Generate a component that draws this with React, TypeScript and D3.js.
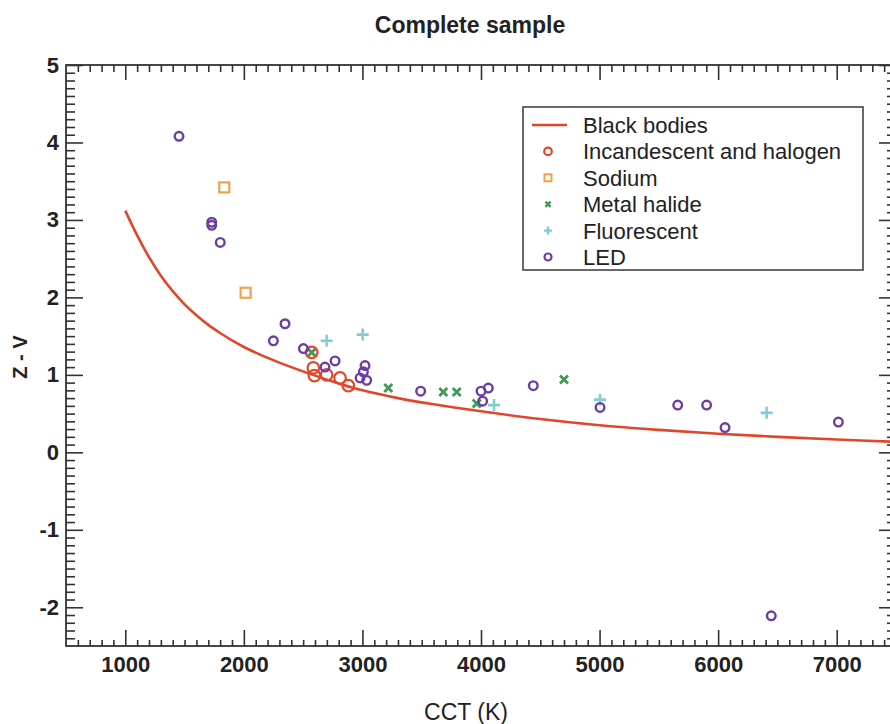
import React, { useEffect, useRef } from 'react';
import * as d3 from 'd3';

// Black body locus (CCT in K, Z - V)
const bbCCT = [1000, 1100, 1200, 1300, 1400, 1500, 1600, 1700, 1800, 1900, 2000, 2200, 2400, 2600, 2800, 3000, 3300, 3600, 4000, 4500, 5000, 5500, 6000, 6500, 7000, 7500];
const bbZV = [3.12, 2.8, 2.52, 2.28, 2.08, 1.91, 1.77, 1.645, 1.54, 1.445, 1.36, 1.22, 1.1, 0.99, 0.89, 0.8, 0.7, 0.62, 0.53, 0.43, 0.35, 0.29, 0.24, 0.2, 0.165, 0.135];

// Incandescent and halogen
const incCCT = [2572, 2586, 2595, 2698, 2811, 2881];
const incZV = [1.29, 1.09, 0.99, 1.0, 0.96, 0.86];

// Sodium
const sodCCT = [1835, 2015];
const sodZV = [3.42, 2.06];

// Metal halide
const mhCCT = [2572, 3218, 3682, 3795, 3964, 4700];
const mhZV = [1.29, 0.83, 0.78, 0.78, 0.63, 0.94];

// Fluorescent
const flCCT = [2698, 3002, 4110, 5004, 6409];
const flZV = [1.44, 1.52, 0.61, 0.68, 0.51];

// LED
const ledCCT = [1453, 1729, 1729, 1801, 2249, 2347, 2502, 2684, 2769, 3022, 3008, 2980, 3036, 3491, 4000, 4062, 4014, 4441, 5004, 5659, 5903, 6058, 6448, 7014];
const ledZV = [4.08, 2.97, 2.93, 2.71, 1.44, 1.66, 1.34, 1.1, 1.18, 1.12, 1.04, 0.96, 0.93, 0.79, 0.79, 0.83, 0.66, 0.86, 0.58, 0.61, 0.61, 0.32, -2.11, 0.39];

const xMajorTicks = [1000, 2000, 3000, 4000, 5000, 6000, 7000];
const yMajorTicks = [-2, -1, 0, 1, 2, 3, 4, 5];
const legendLabels = ['Black bodies', 'Incandescent and halogen', 'Sodium', 'Metal halide', 'Fluorescent', 'LED'];

const FONT = "'Liberation Sans', Arial, Helvetica, sans-serif";
const C_BB = '#e2462a';
const C_INC = '#e0482c';
const C_SOD = '#f0a24c';
const C_MH = '#3f9a55';
const C_FL = '#7fcfd2';
const C_LED = '#6a3ea2';

export default function App() {
  const ref = useRef<SVGSVGElement>(null);

  useEffect(() => {
    const svg = d3.select(ref.current);
    svg.selectAll('*').remove();

    const L = 66, R = 896, T = 65, B = 646;
    const x = d3.scaleLinear().domain([500, 7500]).range([L, R]);
    const y = d3.scaleLinear().domain([-2.5, 5]).range([B, T]);

    // title
    svg.append('text').attr('x', 470).attr('y', 33).attr('text-anchor', 'middle')
      .attr('font-family', FONT).attr('font-weight', 'bold').attr('font-size', 23)
      .attr('fill', '#222').text('Complete sample');

    // axis labels
    svg.append('text').attr('x', 466).attr('y', 720).attr('text-anchor', 'middle')
      .attr('font-family', FONT).attr('font-size', 23).attr('fill', '#222').text('CCT (K)');
    svg.append('text').attr('transform', 'translate(27,357) rotate(-90)').attr('text-anchor', 'middle')
      .attr('font-family', FONT).attr('font-weight', 'bold').attr('font-size', 20).attr('fill', '#222')
      .attr('xml:space', 'preserve').text('Z - V');

    const xMinor = d3.range(600, 7500, 100).filter(v => v % 1000 !== 0);
    const yMinor = d3.range(-24, 50, 1).map(v => v / 10).filter(v => Math.abs(v - Math.round(v)) > 1e-6);

    const styleAxis = (g: any) => {
      g.select('.domain').remove();
      g.selectAll('line').attr('stroke', '#333').attr('stroke-width', 1.6);
      g.selectAll('text').attr('font-family', FONT).attr('font-weight', 'bold').attr('font-size', 22).attr('fill', '#222');
    };
    const fmt = (d: any) => String(d);

    // bottom
    svg.append('g').attr('transform', `translate(0,${B})`)
      .call(d3.axisBottom(x).tickValues(xMinor).tickSize(-6).tickFormat(() => '')).call(styleAxis);
    svg.append('g').attr('transform', `translate(0,${B})`)
      .call(d3.axisBottom(x).tickValues(xMajorTicks).tickSize(-16).tickPadding(10).tickFormat(fmt)).call(styleAxis);
    // top
    svg.append('g').attr('transform', `translate(0,${T})`)
      .call(d3.axisTop(x).tickValues(xMinor).tickSize(-7).tickFormat(() => '')).call(styleAxis);
    svg.append('g').attr('transform', `translate(0,${T})`)
      .call(d3.axisTop(x).tickValues(xMajorTicks).tickSize(-15).tickFormat(() => '')).call(styleAxis);
    // left
    svg.append('g').attr('transform', `translate(${L},0)`)
      .call(d3.axisLeft(y).tickValues(yMinor).tickSize(-9).tickFormat(() => '')).call(styleAxis);
    svg.append('g').attr('transform', `translate(${L},0)`)
      .call(d3.axisLeft(y).tickValues(yMajorTicks).tickSize(-17).tickPadding(7).tickFormat(fmt)).call(styleAxis);
    // right
    svg.append('g').attr('transform', `translate(${R},0)`)
      .call(d3.axisRight(y).tickValues(yMinor).tickSize(-9).tickFormat(() => '')).call(styleAxis);
    svg.append('g').attr('transform', `translate(${R},0)`)
      .call(d3.axisRight(y).tickValues(yMajorTicks).tickSize(-17).tickFormat(() => '')).call(styleAxis);

    // frame
    svg.append('rect').attr('x', L).attr('y', T).attr('width', R - L).attr('height', B - T)
      .attr('fill', 'none').attr('stroke', '#333').attr('stroke-width', 1.8);

    // clip
    svg.append('clipPath').attr('id', 'plotclip').append('rect')
      .attr('x', L).attr('y', T).attr('width', R - L).attr('height', B - T);
    const plot = svg.append('g').attr('clip-path', 'url(#plotclip)');

    // black body curve
    const line = d3.line<number>().x((_, i) => x(bbCCT[i])).y(d => y(d)).curve(d3.curveCatmullRom.alpha(0.5));
    plot.append('path').attr('d', line(bbZV) as string).attr('fill', 'none')
      .attr('stroke', C_BB).attr('stroke-width', 2.6);

    const drawCircle = (g: any, cx: number, cy: number, r: number, color: string, sw: number) =>
      g.append('circle').attr('cx', cx).attr('cy', cy).attr('r', r).attr('fill', 'none').attr('stroke', color).attr('stroke-width', sw);
    const drawSquare = (g: any, cx: number, cy: number, h: number, color: string, sw: number) =>
      g.append('rect').attr('x', cx - h).attr('y', cy - h).attr('width', 2 * h).attr('height', 2 * h)
        .attr('fill', 'none').attr('stroke', color).attr('stroke-width', sw);
    const drawX = (g: any, cx: number, cy: number, h: number, color: string, sw: number) =>
      g.append('path').attr('d', `M${cx - h},${cy - h}L${cx + h},${cy + h}M${cx - h},${cy + h}L${cx + h},${cy - h}`)
        .attr('stroke', color).attr('stroke-width', sw).attr('fill', 'none');
    const drawPlus = (g: any, cx: number, cy: number, h: number, color: string, sw: number) =>
      g.append('path').attr('d', `M${cx - h},${cy}L${cx + h},${cy}M${cx},${cy - h}L${cx},${cy + h}`)
        .attr('stroke', color).attr('stroke-width', sw).attr('fill', 'none');

    mhCCT.forEach((c, i) => drawX(plot, x(c), y(mhZV[i]), 4, C_MH, 2.8));
    incCCT.forEach((c, i) => drawCircle(plot, x(c), y(incZV[i]), 5.8, C_INC, 2.2));
    sodCCT.forEach((c, i) => drawSquare(plot, x(c), y(sodZV[i]), 5, C_SOD, 2.2));
    flCCT.forEach((c, i) => drawPlus(plot, x(c), y(flZV[i]), 6, C_FL, 2.6));
    ledCCT.forEach((c, i) => drawCircle(plot, x(c), y(ledZV[i]), 4.3, C_LED, 2.4));

    // legend
    const lg = svg.append('g');
    lg.append('rect').attr('x', 523).attr('y', 107).attr('width', 340).attr('height', 163)
      .attr('fill', '#fff').attr('stroke', '#444').attr('stroke-width', 1.6);
    const rowY = (i: number) => 125 + i * 26.4;
    legendLabels.forEach((lab, i) => {
      lg.append('text').attr('x', 583).attr('y', rowY(i) + 8).attr('font-family', FONT)
        .attr('font-size', 22).attr('fill', '#222').text(lab);
    });
    lg.append('line').attr('x1', 532).attr('x2', 567).attr('y1', rowY(0)).attr('y2', rowY(0))
      .attr('stroke', C_BB).attr('stroke-width', 2.6);
    drawCircle(lg, 548, rowY(1), 3.8, C_INC, 2.2);
    drawSquare(lg, 548, rowY(2), 3.5, C_SOD, 2);
    drawX(lg, 548, rowY(3), 2.6, C_MH, 2.4);
    drawPlus(lg, 548, rowY(4), 4, C_FL, 2.4);
    drawCircle(lg, 548, rowY(5), 3.5, C_LED, 2.2);
  }, []);

  return (
    <svg ref={ref} width={890} height={724}
      style={{ position: 'absolute', left: 0, top: 0, background: '#fff', display: 'block' }} />
  );
}
